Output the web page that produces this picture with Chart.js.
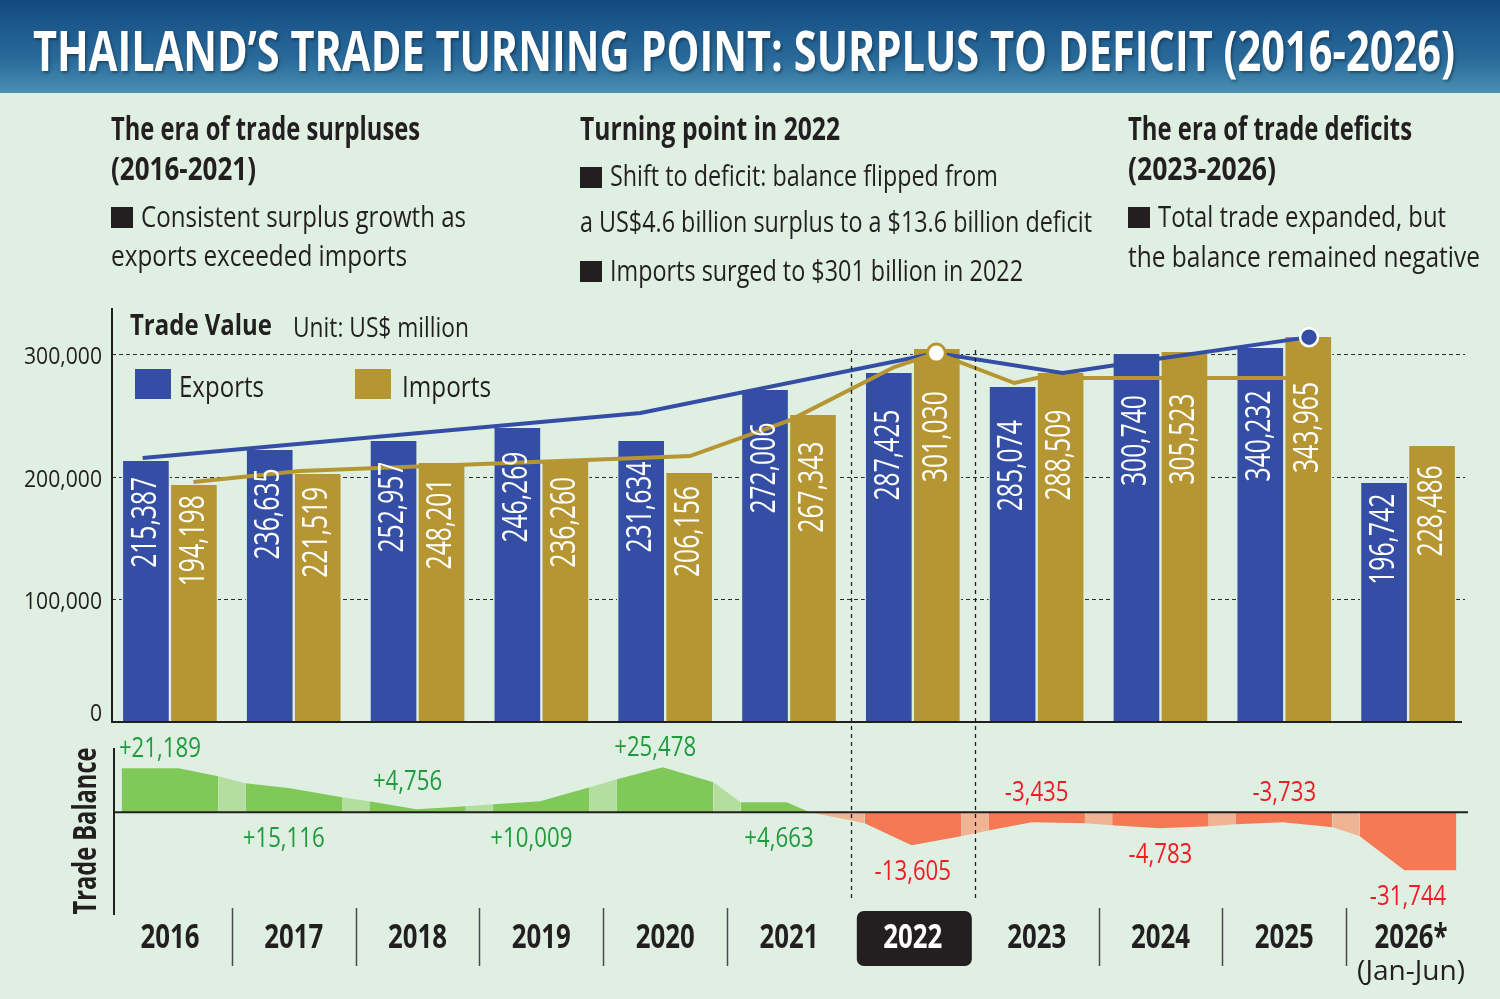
<!DOCTYPE html>
<html lang="en">
<head>
<meta charset="UTF-8">
<title>Thailand's trade turning point</title>
<script src="https://cdn.jsdelivr.net/npm/chart.js@4/dist/chart.umd.min.js"></script>
<style>
  html, body { margin: 0; padding: 0; }
  body { width: 1500px; height: 999px; position: relative; overflow: hidden; background: #dff0e2; font-family: 'Open Sans', sans-serif; color: #231f20; }
  #banner { position: absolute; left: 0; top: 0; width: 1500px; height: 93px; background: linear-gradient(#124a80, #2a6b9b 65%, #4a90b2); }
  .t { position: absolute; white-space: nowrap; transform-origin: 0 0; line-height: 1; }
  .b { font-weight: 700; }
  .sq { position: absolute; width: 22px; height: 21px; background: #231f20; }
  canvas { position: absolute; left: 0; top: 0; }
</style>
</head>
<body>
<div id="banner"></div>
<canvas id="trade" width="1500" height="999"></canvas>
<canvas id="balance" width="1500" height="999"></canvas>

<div class="t b" data-x="33" data-b="71" data-f="55" data-w="1422" style="color:#fff;text-shadow:2px 2px 3px rgba(0,0,0,0.35)">THAILAND’S TRADE TURNING POINT: SURPLUS TO DEFICIT (2016-2026)</div>

<div class="t b" data-x="111" data-b="140" data-f="32" data-w="309">The era of trade surpluses</div>
<div class="t b" data-x="111" data-b="180" data-f="32" data-w="145">(2016-2021)</div>
<div class="sq" style="left:111px;top:207px"></div>
<div class="t" data-x="141" data-b="228" data-f="30" data-w="325">Consistent surplus growth as</div>
<div class="t" data-x="111" data-b="267" data-f="30" data-w="296">exports exceeded imports</div>

<div class="t b" data-x="580" data-b="140" data-f="32" data-w="260">Turning point in 2022</div>
<div class="sq" style="left:580px;top:167px"></div>
<div class="t" data-x="610" data-b="187" data-f="30" data-w="388">Shift to deficit: balance flipped from</div>
<div class="t" data-x="580" data-b="233" data-f="30" data-w="512">a US$4.6 billion surplus to a $13.6 billion deficit</div>
<div class="sq" style="left:580px;top:261px"></div>
<div class="t" data-x="610" data-b="282" data-f="30" data-w="413">Imports surged to $301 billion in 2022</div>

<div class="t b" data-x="1128" data-b="140" data-f="32" data-w="284">The era of trade deficits</div>
<div class="t b" data-x="1128" data-b="180" data-f="32" data-w="148">(2023-2026)</div>
<div class="sq" style="left:1128px;top:207px"></div>
<div class="t" data-x="1158" data-b="228" data-f="30" data-w="288">Total trade expanded, but</div>
<div class="t" data-x="1128" data-b="268" data-f="30" data-w="352">the balance remained negative</div>

<div class="t b" data-x="130" data-b="335" data-f="28" data-w="142">Trade Value</div>
<div class="t" data-x="293" data-b="337" data-f="27" data-w="176">Unit: US$ million</div>
<div class="sq" style="left:135px;top:369px;width:36px;height:30px;background:#344ea6"></div>
<div class="t" data-x="179" data-b="397" data-f="29" data-w="85">Exports</div>
<div class="sq" style="left:355px;top:369px;width:36px;height:30px;background:#b69632"></div>
<div class="t" data-x="402" data-b="397" data-f="29" data-w="89">Imports</div>

<script>
// ---- data ----
const years = ['2016', '2017', '2018', '2019', '2020', '2021', '2022', '2023', '2024', '2025', '2026*'];
const yearNote = '(Jan-Jun)';
const highlightYear = 6;  // 2022

// printed values (US$ million)
const exportValues = [215387, 236635, 252957, 246269, 231634, 272006, 287425, 285074, 300740, 340232, 196742];
const importValues = [194198, 221519, 248201, 236260, 206156, 267343, 301030, 288509, 305523, 343965, 228486];
// bar heights as drawn on the value axis
const exportBars = [212800, 221700, 229100, 239700, 229100, 270600, 284500, 273100, 300000, 304900, 194800];
const importBars = [193200, 202200, 211100, 212800, 203000, 250300, 304100, 284500, 301600, 313900, 225000];

// trend lines drawn over the bars
const exportTrendX = [2015.78, 2019.80, 2022.19, 2023.21, 2023.97, 2025.20];
const exportTrendY = [215200, 251900, 300800, 284500, 295900, 313800];
const importTrendX = [2016.19, 2017.05, 2020.20, 2021.01, 2021.85, 2022.19, 2022.82, 2023.00, 2025.02];
const importTrendY = [195600, 204600, 216800, 246200, 289400, 300800, 276400, 280400, 280400];

const valueTicks = [0, 100000, 200000, 300000];

// trade balance
const balanceValues = [21189, 15116, 4756, 10009, 25478, 4663, -13605, -3435, -4783, -3733, -31744];
const balanceSide = ['up', 'down', 'up', 'down', 'up', 'down', 'down', 'up', 'down', 'up', 'down'];
// balance area outline as drawn
const balanceX = [2015.61, 2016.07, 2016.39, 2016.61, 2016.97, 2017.39, 2017.61, 2017.99, 2018.39, 2018.61,
                  2018.99, 2019.39, 2019.61, 2019.98, 2020.39, 2020.61, 2020.98, 2021.17, 2021.61, 2021.99,
                  2022.39, 2022.61, 2022.96, 2023.39, 2023.61, 2023.99, 2024.39, 2024.61, 2024.99, 2025.39,
                  2025.61, 2025.97, 2026.39];
const balanceY = [22550, 22550, 18450, 14860, 12300, 7690, 5640, 1540, 3080, 4100,
                  5640, 12810, 16910, 23060, 15380, 5125, 5125, 0, -5640, -16910,
                  -12300, -9330, -5125, -5640, -6660, -8200, -7175, -6150, -5125, -7690,
                  -12300, -29725, -29725];

const BLUE = '#344ea6', GOLD = '#b69632', INK = '#231f20', PAPER = '#dff0e2';
const FONT = "'Open Sans', 'Liberation Sans', sans-serif";

// horizontal squeeze so the text matches the condensed face of the original
function squeeze(font, sample, width) {
  const c = document.createElement('canvas').getContext('2d');
  c.font = font;
  return width / c.measureText(sample).width;
}
function say(ctx, text, x, y, font, color, align, sx, angle) {
  ctx.save();
  ctx.translate(x, y);
  if (angle) ctx.rotate(angle);
  ctx.scale(sx, 1);
  ctx.font = font;
  ctx.fillStyle = color;
  ctx.textAlign = align;
  ctx.textBaseline = 'middle';
  ctx.fillText(text, 0, 0);
  ctx.restore();
}
const fmt = v => Math.abs(v).toLocaleString('en-US');

const barFont = '34px ' + FONT, barSx = squeeze(barFont, '215,387', 91);
const tickFont = '24px ' + FONT, tickSx = squeeze(tickFont, '300,000', 78);
const yearFont = 'bold 34px ' + FONT, yearSx = squeeze(yearFont, '2016', 59);
const balFont = '27px ' + FONT, balSx = squeeze(balFont, '+21,189', 82);
const sideFont = 'bold 32px ' + FONT, sideSx = squeeze(sideFont, 'Trade Balance', 167);
const noteFont = '27px ' + FONT, noteSx = squeeze(noteFont, yearNote, 108);

const tradeDecor = {
  id: 'tradeDecor',
  beforeDatasetsDraw(chart) {
    const {ctx, chartArea: a, scales: {y}} = chart;
    ctx.save();
    ctx.strokeStyle = '#2b2b2b';
    ctx.lineWidth = 1.2;
    ctx.setLineDash([4, 3]);
    valueTicks.forEach(v => {
      if (v === 0) return;
      const py = Math.round(y.getPixelForValue(v)) + 0.5;
      ctx.beginPath(); ctx.moveTo(a.left + 4, py); ctx.lineTo(a.right - 5, py); ctx.stroke();
    });
    ctx.restore();
    valueTicks.forEach(v => {
      const py = Math.min(y.getPixelForValue(v) + 3, a.bottom - 8);
      say(ctx, v.toLocaleString('en-US'), a.left - 6, py, tickFont, INK, 'right', tickSx);
    });
  },
  afterDatasetsDraw(chart) {
    const {ctx, chartArea: a} = chart;
    // axes
    ctx.save();
    ctx.strokeStyle = INK;
    ctx.lineWidth = 2;
    ctx.beginPath();
    ctx.moveTo(a.left + 4, a.top + 3); ctx.lineTo(a.left + 4, a.bottom);
    ctx.lineTo(a.right - 8, a.bottom);
    ctx.stroke();
    ctx.restore();
    // values written up the bars
    [[2, exportValues], [3, importValues]].forEach(([di, vals]) => {
      chart.getDatasetMeta(di).data.forEach((bar, i) => {
        const cy = bar.y + 0.235 * (bar.base - bar.y);
        say(ctx, fmt(vals[i]), bar.x, cy, barFont, '#fff', 'center', barSx, -Math.PI / 2);
      });
    });
  }
};

const barSides = { left: 1.5, right: 1.5, top: 0, bottom: 0 };

new Chart(document.getElementById('trade'), {
  type: 'bar',
  data: {
    labels: years,
    datasets: [
      {
        type: 'line', label: 'Exports trend', xAxisID: 'xl', order: 1,
        data: exportTrendX.map((x, i) => ({x, y: exportTrendY[i]})),
        borderColor: BLUE, borderWidth: 4, tension: 0,
        pointRadius: c => c.dataIndex === exportTrendX.length - 1 ? 9 : 0,
        pointBackgroundColor: BLUE, pointBorderColor: '#fff', pointBorderWidth: 2.5
      },
      {
        type: 'line', label: 'Imports trend', xAxisID: 'xl', order: 0,
        data: importTrendX.map((x, i) => ({x, y: importTrendY[i]})),
        borderColor: GOLD, borderWidth: 4, tension: 0,
        pointRadius: c => importTrendX[c.dataIndex] === 2022.19 ? 9 : 0,
        pointBackgroundColor: '#fff', pointBorderColor: GOLD, pointBorderWidth: 3
      },
      { label: 'Exports', data: exportBars, backgroundColor: BLUE, borderColor: PAPER, borderWidth: barSides, borderSkipped: false, order: 2, barThickness: 48 },
      { label: 'Imports', data: importBars, backgroundColor: GOLD, borderColor: PAPER, borderWidth: barSides, borderSkipped: false, order: 2, barThickness: 48 }
    ]
  },
  options: {
    responsive: false,
    animation: false,
    layout: { padding: { left: 108, right: 30, top: 305, bottom: 277 } },
    plugins: { legend: { display: false }, tooltip: { enabled: false } },
    scales: {
      x: { display: false, offset: true },
      xl: { type: 'linear', min: 2015.5, max: 2026.5, display: false, offset: false },
      y: { min: 0, max: 340000, display: false }
    }
  },
  plugins: [tradeDecor]
});

// ---- trade balance panel ----
function shade(c) {
  const p0 = c.p0.parsed, p1 = c.p1.parsed;
  const mid = (p0.x + p1.x) / 2;
  const inBar = Math.abs(mid - Math.round(mid)) < 0.388;
  if (p0.y + p1.y >= 0) return inBar ? '#80c858' : '#b3dea0';
  return inBar ? '#f47954' : '#f0b394';
}

const balanceDecor = {
  id: 'balanceDecor',
  afterDatasetsDraw(chart) {
    const {ctx, chartArea: a, scales: {x, y}} = chart;
    const zero = y.getPixelForValue(0);
    ctx.save();
    ctx.strokeStyle = INK;
    ctx.lineWidth = 2;
    ctx.beginPath();
    ctx.moveTo(a.left + 6, a.top + 8); ctx.lineTo(a.left + 6, 915);
    ctx.moveTo(a.left + 6, zero); ctx.lineTo(a.right - 2, zero);
    ctx.stroke();
    // dashed frame around 2022
    ctx.lineWidth = 1.3;
    ctx.setLineDash([4, 4]);
    [2021.5, 2022.5].forEach(v => {
      const px = Math.round(x.getPixelForValue(v)) + 0.5;
      ctx.beginPath(); ctx.moveTo(px, 350); ctx.lineTo(px, 898); ctx.stroke();
    });
    ctx.setLineDash([]);
    // year separators
    ctx.strokeStyle = '#4a4a4a';
    ctx.lineWidth = 1.5;
    for (let i = 0; i < years.length - 1; i++) {
      if (i === highlightYear - 1 || i === highlightYear) continue;
      const px = Math.round(x.getPixelForValue(2016.5 + i)) + 0.5;
      ctx.beginPath(); ctx.moveTo(px, 908); ctx.lineTo(px, 966); ctx.stroke();
    }
    ctx.restore();

    say(ctx, 'Trade Balance', 87, 831, sideFont, INK, 'center', sideSx, -Math.PI / 2);

    years.forEach((label, i) => {
      const px = x.getPixelForValue(2016 + i);
      let color = INK;
      if (i === highlightYear) {
        ctx.save();
        ctx.fillStyle = INK;
        ctx.beginPath();
        ctx.roundRect(px - 56, 911, 115, 55, 7);
        ctx.fill();
        ctx.restore();
        color = '#fff';
      }
      say(ctx, label, px + (i === years.length - 1 ? 3 : 0), 938, yearFont, color, 'center', yearSx);
      if (i === years.length - 1) say(ctx, yearNote, px + 3, 972, noteFont, INK, 'center', noteSx);
    });

    // balance values
    balanceValues.forEach((v, i) => {
      const yr = 2016 + i;
      let top = zero, bottom = zero;
      balanceX.forEach((bx, k) => {
        if (Math.abs(bx - yr) <= 0.5) {
          const py = y.getPixelForValue(balanceY[k]);
          top = Math.min(top, py); bottom = Math.max(bottom, py);
        }
      });
      const py = balanceSide[i] === 'up' ? top - 19 : bottom + 27;
      const px = x.getPixelForValue(yr) + (v > 0 ? -10 : 0);
      const text = (v > 0 ? '+' : '-') + fmt(v);
      say(ctx, text, px, py, balFont, v > 0 ? '#1f9a3c' : '#ee1c25', 'center', balSx);
    });
  }
};

new Chart(document.getElementById('balance'), {
  type: 'line',
  data: {
    datasets: [{
      label: 'Trade balance',
      data: balanceX.map((bx, i) => ({x: bx, y: balanceY[i]})),
      fill: 'origin',
      tension: 0,
      borderWidth: 0,
      borderColor: 'transparent',
      pointRadius: 0,
      backgroundColor: '#80c858',
      segment: { backgroundColor: shade }
    }]
  },
  options: {
    responsive: false,
    animation: false,
    layout: { padding: { left: 108, right: 30, top: 740, bottom: 99 } },
    plugins: { legend: { display: false }, tooltip: { enabled: false } },
    scales: {
      x: { type: 'linear', min: 2015.5, max: 2026.5, display: false },
      y: { min: -45000, max: 37000, display: false }
    }
  },
  plugins: [balanceDecor]
});

// ---- html text: place on its baseline and squeeze to the original width ----
document.querySelectorAll('.t').forEach(el => {
  const f = +el.dataset.f;
  el.style.fontSize = f + 'px';
  el.style.left = el.dataset.x + 'px';
  el.style.top = (+el.dataset.b - 0.888 * f) + 'px';
  const natural = el.getBoundingClientRect().width;
  el.style.transform = 'scaleX(' + (+el.dataset.w / natural) + ')';
});
</script>
</body>
</html>
